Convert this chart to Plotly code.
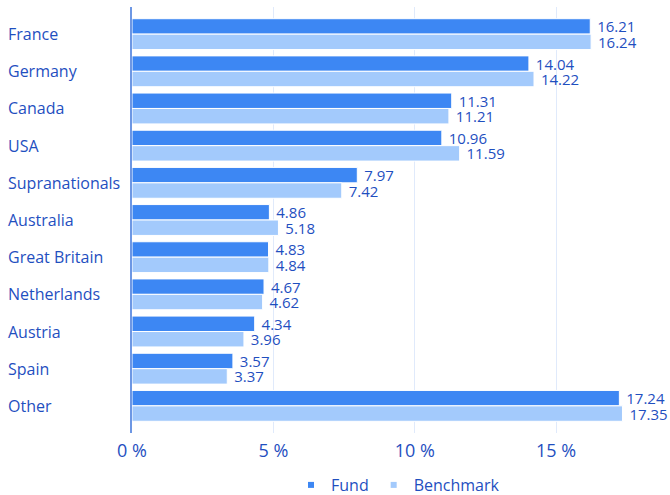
import plotly.graph_objects as go

categories = ["France", "Germany", "Canada", "USA", "Supranationals", "Australia",
              "Great Britain", "Netherlands", "Austria", "Spain", "Other"]
fund = [16.21, 14.04, 11.31, 10.96, 7.97, 4.86, 4.83, 4.67, 4.34, 3.57, 17.24]
benchmark = [16.24, 14.22, 11.21, 11.59, 7.42, 5.18, 4.84, 4.62, 3.96, 3.37, 17.35]
x_ticks = [0, 5, 10, 15]
x_tick_labels = ["0 %", "5 %", "10 %", "15 %"]

TXT = "#1f4fbf"
FUND_C = "#3d87f3"
BENCH_C = "#a3cafc"
FONT = "Open Sans"

L, R, T, B = 132, 10, 7, 62
W, H = 670, 495
plot_w = W - L - R

fig = go.Figure()
for name, vals, col in [("Fund", fund, FUND_C), ("Benchmark", benchmark, BENCH_C)]:
    fig.add_trace(go.Bar(
        y=categories, x=vals, orientation="h", name=name,
        marker=dict(color=col, line=dict(color="white", width=1)),
        text=[f"\u00a0{v:.2f}" for v in vals], textposition="outside",
        constraintext="none",
        textfont=dict(color=TXT, size=15, family=FONT),
        cliponaxis=False, showlegend=False,
    ))
    fig.add_trace(go.Scatter(
        x=[None], y=[None], mode="markers", name=name,
        marker=dict(symbol="square", size=6, color=col),
    ))

for c in categories:
    fig.add_annotation(
        x=(6 - L) / plot_w, xref="paper", y=c, yref="y",
        text=c, showarrow=False, xanchor="left", yanchor="middle",
        font=dict(color=TXT, size=16, family=FONT),
    )

fig.update_layout(
    width=W, height=H,
    margin=dict(l=L, r=R, t=T, b=B, autoexpand=False),
    paper_bgcolor="white", plot_bgcolor="white",
    barmode="group", bargap=0.17, bargroupgap=0.0,
    font=dict(family=FONT, color=TXT, size=16),
    legend=dict(orientation="h", x=(398 - L) / plot_w, xanchor="center",
                xref="paper", yref="container", y=1 - 485 / H, yanchor="middle",
                font=dict(size=16, color=TXT, family=FONT),
                itemwidth=30, tracegroupgap=0),
    xaxis=dict(range=[0, plot_w / 28.27], tickvals=x_ticks, ticktext=x_tick_labels,
               showgrid=True, gridcolor="#e0eafb", gridwidth=1, zeroline=False,
               showline=False, ticks="", ticklabelstandoff=5,
               tickfont=dict(size=18, color=TXT, family=FONT)),
    yaxis=dict(categoryorder="array", categoryarray=categories,
               range=[len(categories) - 0.5 + 0.23, -0.5 - 0.23],
               showticklabels=False, showgrid=False, zeroline=False,
               showline=True, linecolor="#6d97e4", linewidth=2, ticks=""),
)

fig.write_html("out.html", config={"displayModeBar": False},
               post_script="document.body.style.margin='0';")
